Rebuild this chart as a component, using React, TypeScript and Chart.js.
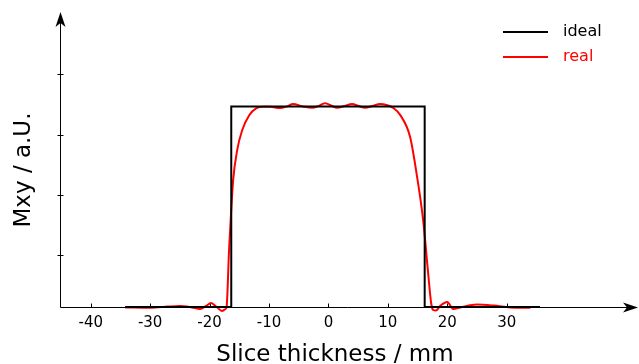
import { useEffect, useRef } from "react";
import { Chart, registerables } from "chart.js";

Chart.register(...registerables);

// Ideal rectangular slice profile
const idealX = [-34.2, -16.35, -16.35, 16.2, 16.2, 35.6];
const idealY = [0, 0, 1, 1, 0, 0];

// Simulated (real) slice profile with ripples
const realX = [
  -34.2, -30, -27, -25, -23, -21.6, -20.6, -19.75, -18.8, -17.9, -17.4, -17.14,
  -16.72, -16.38, -16.04, -15.37, -14.53, -13.35, -12.17, -11.0, -9.8, -8.13,
  -7.0, -5.94, -4.3, -2.74, -1.6, -0.56, 0.5, 1.46, 2.7, 3.99, 5.1, 6.18, 7.4,
  8.7, 9.9, 10.9, 12.07, 13.75, 14.93, 15.94, 16.78, 17.29, 17.63, 18.1, 18.8,
  20.0, 20.99, 22.2, 25.0, 27.8, 30.6, 34.0,
];
const realY = [
  -0.002, -0.004, 0.002, 0.005, -0.002, -0.01, 0.005, 0.02, 0.0, -0.02, -0.012, 0.0,
  0.284, 0.47, 0.63, 0.78, 0.88, 0.955, 0.99, 0.998, 0.998, 0.992,
  1.0, 1.012, 1.0, 0.993, 1.003, 1.016, 1.004, 0.993, 1.002, 1.012, 1.002, 0.993, 1.002,
  1.012, 1.006, 0.993, 0.958, 0.848, 0.648, 0.434, 0.17, 0.02, -0.015, -0.018, 0.005,
  0.025, -0.01, -0.002, 0.012, 0.007, -0.002, -0.004,
];

const xTicks = [-40, -30, -20, -10, 0, 10, 20, 30];
const yTicks = [0.26, 0.56, 0.86, 1.16];

const seriesLabels = ["ideal", "real"];
const seriesColors = ["#000000", "#ff0000"];

const FONT = "'DejaVu Sans', sans-serif";

function arrowHead(ctx: CanvasRenderingContext2D, tx: number, ty: number, dir: "up" | "right") {
  ctx.beginPath();
  if (dir === "up") {
    ctx.moveTo(tx, ty);
    ctx.lineTo(tx + 5, ty + 15);
    ctx.lineTo(tx, ty + 11);
    ctx.lineTo(tx - 5, ty + 15);
  } else {
    ctx.moveTo(tx, ty);
    ctx.lineTo(tx - 15, ty - 5);
    ctx.lineTo(tx - 11, ty);
    ctx.lineTo(tx - 15, ty + 5);
  }
  ctx.closePath();
  ctx.fill();
}

const decorPlugin = {
  id: "decor",
  beforeDatasetsDraw(chart: any) {
    const { ctx, chartArea, scales } = chart;
    const xs = scales.x;
    const ys = scales.y;
    const ox = Math.round(chartArea.left) + 0.5;
    const oy = Math.round(chartArea.bottom) + 0.5;
    ctx.save();
    ctx.strokeStyle = "#000";
    ctx.fillStyle = "#000";
    ctx.lineWidth = 1;
    // axis lines
    ctx.beginPath();
    ctx.moveTo(ox, oy);
    ctx.lineTo(chartArea.right - 4, oy);
    ctx.moveTo(ox, oy);
    ctx.lineTo(ox, chartArea.top + 4);
    ctx.stroke();
    arrowHead(ctx, ox, chartArea.top, "up");
    arrowHead(ctx, chartArea.right, oy, "right");
    // tick marks
    ctx.beginPath();
    xTicks.forEach((v) => {
      const px = Math.round(xs.getPixelForValue(v)) + 0.5;
      ctx.moveTo(px, oy);
      ctx.lineTo(px, oy - 4);
    });
    yTicks.forEach((v) => {
      const py = Math.round(ys.getPixelForValue(v)) + 0.5;
      ctx.moveTo(ox - 3, py);
      ctx.lineTo(ox + 3, py);
    });
    ctx.stroke();
    ctx.restore();
  },
  afterDraw(chart: any) {
    const { ctx } = chart;
    ctx.save();
    ctx.fillStyle = "#000";
    // axis titles
    ctx.font = `23px ${FONT}`;
    ctx.textAlign = "center";
    ctx.textBaseline = "alphabetic";
    ctx.fillText("Slice thickness / mm", 335, 361);
    ctx.translate(30, 170);
    ctx.rotate(-Math.PI / 2);
    ctx.fillText("Mxy / a.U.", 0, 0);
    ctx.restore();

    // legend
    ctx.save();
    ctx.font = `16px ${FONT}`;
    ctx.textAlign = "left";
    ctx.textBaseline = "middle";
    ctx.lineWidth = 2;
    seriesLabels.forEach((label, i) => {
      const y = 32 + i * 25;
      ctx.strokeStyle = seriesColors[i];
      ctx.beginPath();
      ctx.moveTo(503, y);
      ctx.lineTo(548, y);
      ctx.stroke();
      ctx.fillStyle = seriesColors[i];
      ctx.fillText(label, 563, y);
    });
    ctx.restore();
  },
};

export default function App() {
  const canvasRef = useRef<HTMLCanvasElement | null>(null);

  useEffect(() => {
    const canvas = canvasRef.current;
    if (!canvas) return;
    const chart = new Chart(canvas, {
      type: "line",
      data: {
        datasets: [
          {
            label: seriesLabels[0],
            data: idealX.map((x, i) => ({ x, y: idealY[i] })),
            borderColor: seriesColors[0],
            borderWidth: 2,
            pointRadius: 0,
            tension: 0,
            clip: false as any,
          },
          {
            label: seriesLabels[1],
            data: realX.map((x, i) => ({ x, y: realY[i] })),
            borderColor: seriesColors[1],
            borderWidth: 2,
            pointRadius: 0,
            cubicInterpolationMode: "monotone",
            clip: false as any,
          },
        ],
      },
      options: {
        animation: false,
        responsive: false,
        devicePixelRatio: 1,
        layout: { padding: { top: 12, right: 1, left: 0, bottom: 0 } },
        plugins: {
          legend: { display: false },
          tooltip: { enabled: false },
        },
        scales: {
          x: {
            type: "linear",
            min: -45.17,
            max: 52.1,
            grid: { display: false, drawTicks: false },
            border: { display: false },
            afterBuildTicks: (scale: any) => {
              scale.ticks = xTicks.map((v) => ({ value: v }));
            },
            afterFit: (scale: any) => {
              scale.height = 57;
            },
            ticks: {
              padding: 7,
              color: "#000",
              font: { family: FONT, size: 15 },
              maxRotation: 0,
              autoSkip: false,
              callback: (v: any) => String(v),
            },
          },
          y: {
            type: "linear",
            min: 0,
            max: 1.471,
            grid: { display: false, drawTicks: false },
            border: { display: false },
            ticks: { display: false },
            afterFit: (scale: any) => {
              scale.width = 60;
            },
          },
        },
      },
      plugins: [decorPlugin],
    });
    return () => chart.destroy();
  }, []);

  return (
    <div style={{ position: "fixed", left: 0, top: 0, width: 639, height: 364, background: "#fff" }}>
      <canvas ref={canvasRef} width={639} height={364} />
    </div>
  );
}
